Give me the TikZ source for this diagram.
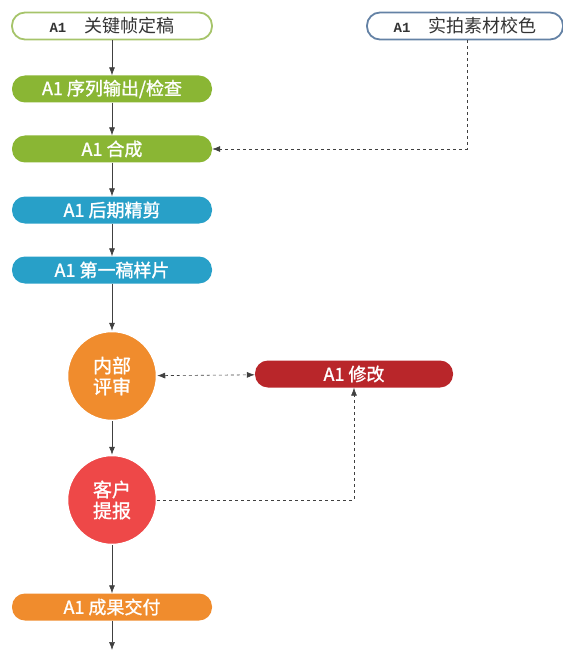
\documentclass[tikz,border=0pt]{standalone}
\usepackage{fontspec}
\newfontfamily\cjk{Noto Sans CJK SC}
\newfontfamily\cjkmid[FakeBold=1.2]{Noto Sans CJK SC}
\newfontfamily\monofont{Liberation Mono}
\usetikzlibrary{arrows.meta}
\begin{document}
\begin{tikzpicture}[x=1pt,y=-1pt,
    pill/.style={rounded corners=13pt,minimum width=200pt,minimum height=27pt,
      font=\cjkmid\fontsize{18}{20}\selectfont,text=white,inner sep=0pt},
    outline/.style={pill,fill=white,line width=1.8pt,text=black!80,
      font=\cjk\fontsize{18}{20}\selectfont},
    disc/.style={circle,minimum size=89pt,inner sep=0pt,draw=white,line width=1.5pt,
      text=white,font=\cjkmid\fontsize{19}{21}\selectfont,align=center},
    flow/.style={-{Latex[length=8pt,width=6pt]},semithick,black!75},
    back/.style={flow,dashed}]
  % colors
  \definecolor{kGreen}{RGB}{138,182,52}
  \definecolor{kBlue}{RGB}{40,160,200}
  \definecolor{kOrange}{RGB}{240,140,45}
  \definecolor{kRed}{RGB}{238,72,72}
  \definecolor{kDark}{RGB}{185,38,42}
  \definecolor{kLine}{RGB}{166,196,106}
  \definecolor{kSteel}{RGB}{100,130,165}
  \useasboundingbox (0,0) rectangle (562,655);
  % nodes
  \node[outline,draw=kLine] (key) at (112,26) {{\monofont\bfseries\fontsize{14}{16}\selectfont A1}\quad 关键帧定稿};
  \node[outline,draw=kSteel,minimum width=196pt] (grade) at (465,26) {{\monofont\bfseries\fontsize{14}{16}\selectfont A1}\quad 实拍素材校色};
  \node[pill,fill=kGreen] (seq) at (112,89) {A1 序列输出/检查};
  \node[pill,fill=kGreen] (comp) at (112,149) {A1 合成};
  \node[pill,fill=kBlue] (edit) at (112,210) {A1 后期精剪};
  \node[pill,fill=kBlue] (draft) at (112,270) {A1 第一稿样片};
  \node[disc,fill=kOrange] (review) at (112,376) {内部\\评审};
  \node[pill,fill=kDark,minimum width=198pt] (fix) at (354,374) {A1 修改};
  \node[disc,fill=kRed] (client) at (112,500) {客户\\提报};
  \node[pill,fill=kOrange] (deliver) at (112,607) {A1 成果交付};
  \coordinate (end) at (112,650);
  % main flow
  \draw[flow] (key) -- (seq);
  \draw[flow] (seq) -- (comp);
  \draw[flow] (comp) -- (edit);
  \draw[flow] (edit) -- (draft);
  \draw[flow] (draft) -- (review);
  \draw[flow] (review) -- (client);
  \draw[flow] (client) -- (deliver);
  \draw[flow] (deliver) -- (end);
  % feedback
  \draw[back] (grade.south -| 467,0) |- (comp.east);
  \draw[back,{Latex[length=8pt,width=6pt]}-{Latex[length=8pt,width=6pt]}] (review) -- (fix);
  \draw[back] (client.east) -| (fix.south);
\end{tikzpicture}
\end{document}
